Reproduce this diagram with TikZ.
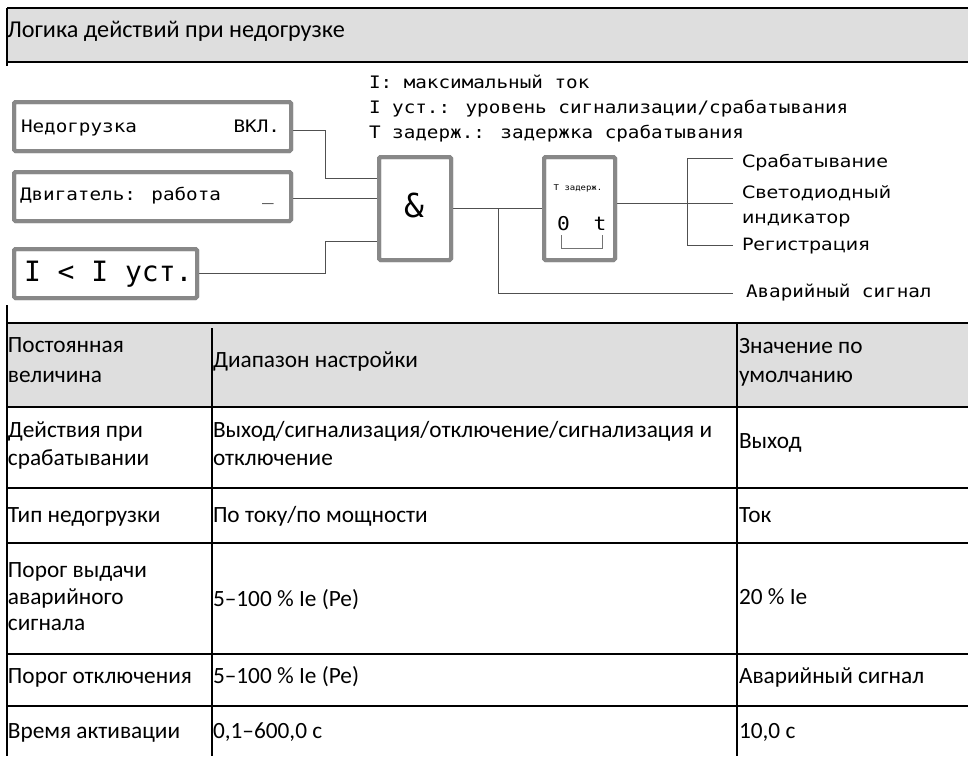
\documentclass[tikz,border=0pt]{standalone}
\usepackage{fontspec}
\setmainfont{Carlito}
\newfontfamily\dmono[FakeStretch=1.12]{DejaVu Sans Mono}
\newfontfamily\dmonoN{DejaVu Sans Mono}
\newfontfamily\dsans[FakeStretch=1.12]{DejaVu Sans}
\definecolor{hdrgray}{RGB}{222,222,222}
\definecolor{boxgray}{RGB}{136,136,136}
\definecolor{wiregray}{RGB}{80,80,80}
\begin{document}
\begin{tikzpicture}[x=1pt,y=-1pt,
  every node/.style={inner sep=0pt,outer sep=0pt},
  lcd/.style={draw=boxgray,line width=4pt,rounded corners=1.5pt,fill=white},
  wire/.style={draw=wiregray,line width=1pt},
  thinwire/.style={draw=wiregray!80,line width=0.9pt},
  grid/.style={draw=black,line width=1.3pt},
  tab/.style={font=\fontsize{23.3}{28}\selectfont,anchor=base west},
  mono/.style={font=\dmono\fontsize{17.2}{20}\selectfont,anchor=base west},
  lab/.style={font=\dsans\fontsize{17}{20}\selectfont,anchor=base west},
  big/.style={font=\dmonoN\fontsize{28}{32}\selectfont},
]
\useasboundingbox (0,0) rectangle (968,756);
% header band
\fill[hdrgray] (7,8) rectangle (968,62);
\draw[grid] (7,8) -- (968,8);
\draw[grid] (7,62) -- (968,62);
\draw[grid] (7,8) -- (7,66);
\node[anchor=base west,font=\fontsize{24.2}{30}\selectfont] (title) at (7,37) {Логика действий при недогрузке};

% diagram blocks
\node[lcd,minimum width=277pt,minimum height=49pt] (b1) at (152.5,126.5) {};
\node[lcd,minimum width=277pt,minimum height=49pt] (b2) at (152.5,196.5) {};
\node[lcd,minimum width=183pt,minimum height=49pt] (b3) at (105.5,273.5) {};
\node[lcd,minimum width=72pt,minimum height=103pt] (and) at (415,208.5) {};
\node[lcd,minimum width=71pt,minimum height=103pt] (tim) at (579.5,208.5) {};

% connectors
\coordinate (j1) at (325,178);
\coordinate (j3) at (325,241);
\coordinate (br) at (498,208);
\coordinate (ea) at (733,293);
\coordinate (eo) at (733,203);
\coordinate (es) at (733,158);
\coordinate (er) at (733,245);
\coordinate (vt) at (687,158);
\coordinate (vb) at (687,245);
\draw[wire] (b1.east |- 0,130) -| (j1) -- (j1 -| and.west);
\draw[wire] (b2.east |- 0,198) -- (and.west |- 0,198);
\draw[wire] (b3.east |- 0,273) -| (j3) -- (j3 -| and.west);
\draw[wire] (and.east |- br) -- (tim.west |- br);
\draw[wire] (br) |- (ea);
\draw[wire] (tim.east |- eo) -- (eo);
\draw[wire] (es) -- (vt) -- (vb) -- (er);

% redraw block borders over wire ends
\draw[boxgray,line width=4pt,rounded corners=1.5pt] (b1.south west) rectangle (b1.north east);
\draw[boxgray,line width=4pt,rounded corners=1.5pt] (b2.south west) rectangle (b2.north east);
\draw[boxgray,line width=4pt,rounded corners=1.5pt] (b3.south west) rectangle (b3.north east);
\draw[boxgray,line width=4pt,rounded corners=1.5pt] (and.south west) rectangle (and.north east);
\draw[boxgray,line width=4pt,rounded corners=1.5pt] (tim.south west) rectangle (tim.north east);

% block texts
\node[mono] (b1t) at (21,132) {Недогрузка};
\node[mono,anchor=base east] (b1v) at (280,132) {ВКЛ.};
\node[mono] (b2t) at (20,200) {Двигатель: работа};
\node[mono] (b2u) at (262,200) {\_};
\node[big,anchor=base west] (b3t) at (24,281) {I < I уст.};
\node[font=\dmonoN\fontsize{33}{36}\selectfont] (amp) at (414,205) {\&};
\node[font=\dmono\fontsize{8}{9}\selectfont,anchor=base] (td) at (578,190) {T задерж.};
\node[font=\dmono\fontsize{19}{20}\selectfont,anchor=base] (z0) at (563.5,230) {0};
\node[font=\dmono\fontsize{19}{20}\selectfont,anchor=base] (zt) at (600,230) {t};
\coordinate (k1) at (561,235);
\coordinate (k2) at (602,235);
\draw[thinwire] (k1) -- (k1 |- 0,248) -- (k2 |- 0,248) -- (k2);

% legend texts
\node[mono] (n1) at (369,88) {I: максимальный ток};
\node[mono] (n2) at (369,113) {I уст.: уровень сигнализации/срабатывания};
\node[mono] (n3) at (369,138) {T задерж.: задержка срабатывания};

% output labels
\node[lab] (l1) at (742,167) {Срабатывание};
\node[lab] (l2) at (742,198) {Светодиодный};
\node[lab] (l3) at (742,223) {индикатор};
\node[lab] (l4) at (742,250) {Регистрация};
\node[mono] (l5) at (746,297) {Аварийный сигнал};

% table
\fill[hdrgray] (7,323) rectangle (968,407);
\draw[grid] (7,323) -- (968,323);
\foreach \yy in {407,488,543,654,706} \draw[grid] (7,\yy) -- (968,\yy);
\draw[grid] (7,305) -- (7,756);
\draw[grid] (212,328) -- (212,756);
\draw[grid] (737,323) -- (737,756);

\node[tab] (h1a) at (8,352) {Постоянная};
\node[tab] (h1b) at (8,382) {величина};
\node[tab] (h2) at (213,367) {Диапазон настройки};
\node[tab] (h3a) at (739,353) {Значение по};
\node[tab] (h3b) at (739,382) {умолчанию};

\node[tab] (r1a) at (8,437) {Действия при};
\node[tab] (r1b) at (8,465) {срабатывании};
\node[tab] (r1c) at (213,437) {Выход/сигнализация/отключение/сигнализация и};
\node[tab] (r1d) at (213,465) {отключение};
\node[tab] (r1e) at (739,448) {Выход};

\node[tab] (r2a) at (8,522) {Тип недогрузки};
\node[tab] (r2b) at (213,522) {По току/по мощности};
\node[tab] (r2c) at (739,522) {Ток};

\node[tab] (r3a) at (8,577) {Порог выдачи};
\node[tab] (r3b) at (8,604) {аварийного};
\node[tab] (r3c) at (8,630) {сигнала};
\node[tab] (r3d) at (213,606) {5–100 \% Ie (Pe)};
\node[tab] (r3e) at (739,604) {20 \% Ie};

\node[tab] (r4a) at (8,683) {Порог отключения};
\node[tab] (r4b) at (213,683) {5–100 \% Ie (Pe)};
\node[tab] (r4c) at (739,683) {Аварийный сигнал};

\node[tab] (r5a) at (8,738) {Время активации};
\node[tab] (r5b) at (213,738) {0,1–600,0 с};
\node[tab] (r5c) at (739,738) {10,0 с};
\end{tikzpicture}
\end{document}
